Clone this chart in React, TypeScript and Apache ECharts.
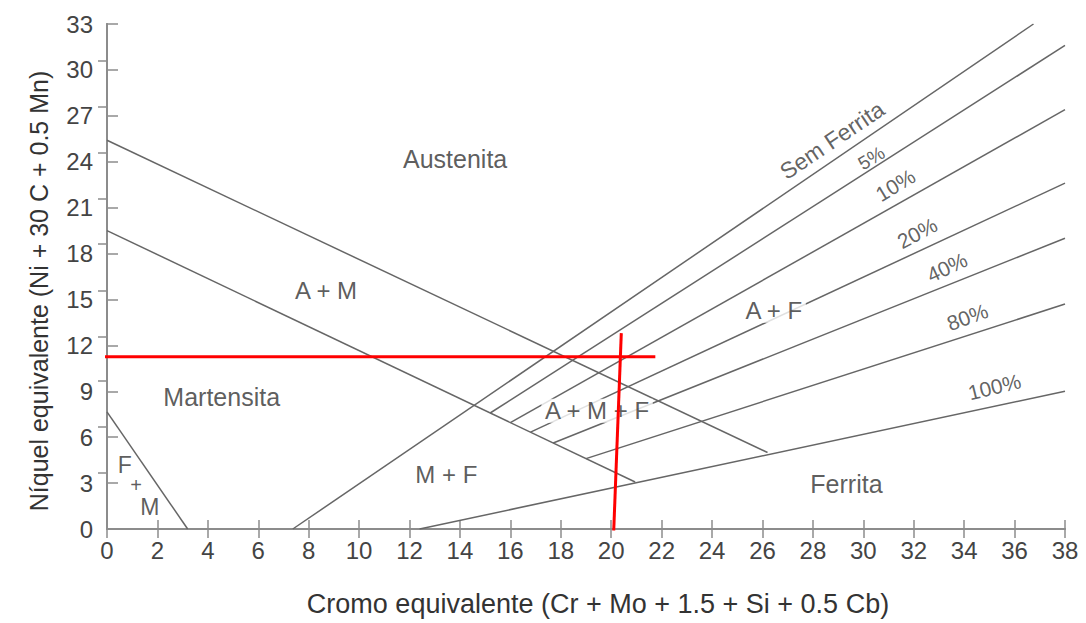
import React, { useEffect, useRef } from "react";
import * as echarts from "echarts";

// ---- Data (Schaeffler diagram) ----
const austeniteLine = [[0, 25.4], [26.2, 5.0]];
const martensiteLine = [[0, 19.5], [20.95, 3.07]];
const ferriteMartensiteLine = [[0, 7.65], [3.2, 0]];
const ferrite0Line = [[7.37, 0], [36.75, 33]];
const ferrite5Line = [[15.2, 7.58], [38, 31.6]];
const ferrite10Line = [[16.0, 6.95], [38, 27.4]];
const ferrite20Line = [[16.8, 6.33], [38, 22.6]];
const ferrite40Line = [[17.7, 5.62], [38, 19.0]];
const ferrite80Line = [[19.0, 4.6], [38, 14.7]];
const ferrite100Line = [[12.4, 0], [38, 9.0]];
const redHorizontal = [[-0.45, 11.25], [21.75, 11.25]];
const redVertical = [[20.4, 12.8], [20.1, -0.1]];
const rightTickValues = [3.65, 6.7, 9.7, 12.55, 15.55, 18.65, 21.6, 24.6, 27.6, 30.6];

const regionNames = ["Austenita", "A + M", "Martensita", "M + F", "A + M + F", "A + F", "Ferrita", "F", "+", "M"];
const regionX = [13.81, 8.69, 4.55, 13.46, 19.44, 26.45, 29.33, 0.71, 1.15, 1.7];
const regionY = [24.18, 15.6, 8.63, 3.55, 7.73, 14.26, 2.92, 4.2, 2.9, 1.45];

const ferriteNames = ["Sem Ferrita", "5%", "10%", "20%", "40%", "80%", "100%"];
const ferriteLabelX = [28.76, 30.32, 31.27, 32.14, 33.32, 34.13, 35.2];
const ferriteLabelY = [25.4, 24.24, 22.47, 19.34, 17.1, 13.85, 9.29];

const xTitle = "Cromo equivalente (Cr + Mo + 1.5 + Si + 0.5 Cb)";
const yTitle = "Níquel equivalente (Ni + 30 C + 0.5 Mn)";

// ---- Styles ----
const regionFontSizes = [25, 24, 25, 24, 24, 24, 25, 23, 20, 23];
const regionBackground = [false, false, false, false, true, true, false, false, false, false];
const ferriteRotations = [34, 31, 31, 28, 25, 20, 14];
const ferriteFontSizes = [23, 19, 21, 21, 21, 21, 21];

const FONT = "'Liberation Sans', Arial, Helvetica, sans-serif";
const LINE_COLOR = "#666666";
const AXIS_COLOR = "#8c8c8c";

export default function App() {
  const ref = useRef<HTMLDivElement>(null);

  useEffect(() => {
    if (!ref.current) return;
    const chart = echarts.init(ref.current, null, { renderer: "svg" });

    const boundaries = [
      austeniteLine,
      martensiteLine,
      ferriteMartensiteLine,
      ferrite0Line,
      ferrite5Line,
      ferrite10Line,
      ferrite20Line,
      ferrite40Line,
      ferrite80Line,
      ferrite100Line,
    ];

    const lineSeries = boundaries.map((d) => ({
      type: "line",
      data: d,
      symbol: "none",
      z: 2,
      lineStyle: { color: LINE_COLOR, width: 1.5 },
      silent: true,
    }));

    const redSeries = [redHorizontal, redVertical].map((d) => ({
      type: "line",
      data: d,
      symbol: "none",
      clip: false,
      z: 6,
      lineStyle: { color: "#ff0000", width: 3 },
      silent: true,
    }));

    const regionSeries = {
      type: "scatter",
      symbolSize: 1,
      z: 4,
      itemStyle: { color: "transparent" },
      silent: true,
      data: regionNames.map((n, i) => ({
        value: [regionX[i], regionY[i]],
        label: {
          show: true,
          position: "inside",
          formatter: n,
          fontFamily: FONT,
          fontSize: regionFontSizes[i],
          color: "#333333",
          backgroundColor: regionBackground[i] ? "#ffffff" : "transparent",
          padding: regionBackground[i] ? [0, 3] : 0,
        },
      })),
    };

    const ferriteSeries = {
      type: "scatter",
      symbolSize: 1,
      z: 4,
      itemStyle: { color: "transparent" },
      silent: true,
      data: ferriteNames.map((n, i) => ({
        value: [ferriteLabelX[i], ferriteLabelY[i]],
        label: {
          show: true,
          position: "inside",
          formatter: n,
          rotate: ferriteRotations[i],
          fontFamily: FONT,
          fontSize: ferriteFontSizes[i],
          color: "#3a3a3a",
        },
      })),
    };

    const axisLine = { show: true, lineStyle: { color: AXIS_COLOR, width: 2 } };

    chart.setOption({
      animation: false,
      backgroundColor: "#ffffff",
      grid: { left: 107, right: 21, top: 24, bottom: 94, containLabel: false },
      xAxis: [
        {
          type: "value",
          min: 0,
          max: 38,
          interval: 2,
          axisLine,
          axisTick: { show: true, inside: true, length: 9, lineStyle: { color: AXIS_COLOR, width: 1.5 } },
          axisLabel: { color: "#444444", fontFamily: FONT, fontSize: 24, margin: 9 },
          splitLine: { show: false },
        },
        {
          type: "value",
          position: "top",
          min: 0,
          max: 38,
          interval: 2,
          axisLine,
          axisTick: { show: true, inside: true, length: 9, lineStyle: { color: AXIS_COLOR, width: 1.5 } },
          axisLabel: { show: false },
          splitLine: { show: false },
        },
      ],
      yAxis: [
        {
          type: "value",
          min: 0,
          max: 33,
          interval: 3,
          axisLine,
          axisTick: { show: true, inside: true, length: 11, lineStyle: { color: AXIS_COLOR, width: 1.5 } },
          axisLabel: { color: "#444444", fontFamily: FONT, fontSize: 24, margin: 14 },
          splitLine: { show: false },
        },
        {
          type: "value",
          position: "right",
          min: 0,
          max: 33,
          interval: 3,
          axisLine,
          axisTick: {
            show: true,
            inside: true,
            length: 9,
            customValues: rightTickValues,
            lineStyle: { color: AXIS_COLOR, width: 1.5 },
          },
          axisLabel: { show: false },
          splitLine: { show: false },
        },
      ],
      graphic: [
        {
          type: "text",
          x: 598,
          y: 604,
          style: {
            text: xTitle,
            fontFamily: FONT,
            fontSize: 27,
            fill: "#333333",
            textAlign: "center",
            textVerticalAlign: "middle",
          },
        },
        {
          type: "text",
          x: 39,
          y: 291,
          rotation: Math.PI / 2,
          style: {
            text: yTitle,
            fontFamily: FONT,
            fontSize: 25,
            fill: "#333333",
            textAlign: "center",
            textVerticalAlign: "middle",
          },
        },
      ],
      series: [...lineSeries, regionSeries, ferriteSeries, ...redSeries],
    });

    return () => chart.dispose();
  }, []);

  return (
    <div
      ref={ref}
      style={{ position: "fixed", left: 0, top: 0, width: 1086, height: 623 }}
    />
  );
}
